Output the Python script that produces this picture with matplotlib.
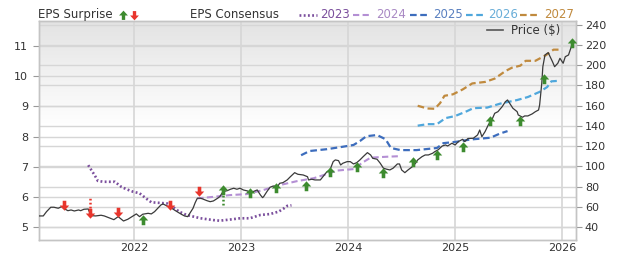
import numpy as np
import matplotlib
matplotlib.use("Agg")
import matplotlib.pyplot as plt
from matplotlib.path import Path
from matplotlib.lines import Line2D
from matplotlib.colors import LinearSegmentedColormap

plt.rcParams['font.family'] = ['DejaVu Sans']

# ---- data (decimal year, value) ----
price_t = [2021.11, 2021.15, 2021.18, 2021.22, 2021.25, 2021.29, 2021.32, 2021.35, 2021.38, 2021.41,
           2021.44, 2021.48, 2021.50, 2021.53, 2021.57, 2021.58, 2021.60, 2021.64, 2021.69, 2021.72,
           2021.77, 2021.81, 2021.85, 2021.88, 2021.90, 2021.94, 2021.99, 2022.02, 2022.05, 2022.08,
           2022.13, 2022.16, 2022.19, 2022.22, 2022.25, 2022.27, 2022.32, 2022.35, 2022.39, 2022.44,
           2022.47, 2022.50, 2022.52, 2022.55, 2022.57, 2022.59, 2022.62, 2022.64, 2022.68, 2022.71,
           2022.74, 2022.78, 2022.80, 2022.83, 2022.87, 2022.90, 2022.93, 2022.96, 2022.99, 2023.02,
           2023.06, 2023.08, 2023.11, 2023.15, 2023.18, 2023.20, 2023.21, 2023.24, 2023.27, 2023.30,
           2023.34, 2023.36, 2023.39, 2023.43, 2023.46, 2023.50, 2023.53, 2023.58, 2023.62, 2023.63,
           2023.66, 2023.69, 2023.74, 2023.77, 2023.80, 2023.83, 2023.86, 2023.88, 2023.91, 2023.93,
           2023.95, 2023.99, 2024.02, 2024.05, 2024.08, 2024.11, 2024.14, 2024.18, 2024.21, 2024.23,
           2024.27, 2024.30, 2024.33, 2024.36, 2024.39, 2024.42, 2024.46, 2024.48, 2024.50, 2024.53,
           2024.56, 2024.60, 2024.63, 2024.65, 2024.69, 2024.72, 2024.75, 2024.79, 2024.81, 2024.84,
           2024.88, 2024.91, 2024.93, 2024.97, 2025.00, 2025.03, 2025.07, 2025.09, 2025.12, 2025.17,
           2025.21, 2025.23, 2025.25, 2025.28, 2025.31, 2025.35, 2025.37, 2025.40, 2025.44, 2025.47,
           2025.49, 2025.51, 2025.54, 2025.58, 2025.59, 2025.63, 2025.65, 2025.68, 2025.72, 2025.75,
           2025.78, 2025.79, 2025.81, 2025.82, 2025.84, 2025.87, 2025.91, 2025.93, 2025.96, 2025.98,
           2026.01, 2026.03, 2026.06, 2026.09]
price_v = [50.9, 50.9, 55.1, 59.5, 59.5, 58.5, 60.1, 57.8, 56.1, 56.8,
           55.8, 56.8, 56.1, 57.5, 57.8, 55.1, 51.2, 50.9, 51.6, 50.9,
           48.9, 47.2, 50.2, 47.6, 45.9, 47.6, 50.9, 52.9, 50.2, 52.6,
           53.5, 52.9, 55.1, 58.5, 61.8, 62.7, 60.1, 58.5, 55.8, 52.6,
           50.9, 50.2, 53.5, 58.5, 64.0, 68.4, 68.4, 67.7, 66.0, 65.0,
           65.7, 68.4, 70.0, 74.9, 75.9, 77.3, 78.3, 77.3, 78.3, 76.6,
           75.6, 73.9, 74.9, 76.6, 71.6, 69.0, 70.0, 74.9, 79.3, 80.5,
           79.9, 83.2, 83.8, 86.5, 89.7, 93.7, 92.1, 91.4, 89.7, 86.5,
           87.2, 86.5, 86.5, 90.4, 94.4, 96.4, 104.6, 106.3, 105.6, 101.3,
           103.0, 104.6, 104.6, 102.3, 103.6, 106.3, 109.5, 113.5, 111.2, 107.9,
           107.0, 103.0, 98.1, 97.1, 96.4, 98.1, 102.3, 102.3, 96.4, 93.7,
           96.4, 99.6, 103.0, 106.3, 109.5, 111.2, 111.2, 112.9, 114.5, 116.2,
           120.1, 121.1, 120.1, 122.8, 121.1, 124.4, 126.7, 124.4, 127.5, 127.7,
           131.0, 135.9, 129.3, 134.3, 140.9, 147.5, 152.4, 154.0, 159.0, 163.9,
           165.6, 162.3, 157.4, 154.0, 150.8, 148.5, 149.8, 149.8, 151.8, 154.0,
           155.7, 160.7, 182.1, 198.5, 210.1, 212.4, 203.5, 198.5, 201.9, 206.8,
           201.9, 208.4, 210.1, 219.5]

c2023_t = [2021.57, 2021.63, 2021.66, 2021.71, 2021.82, 2021.88, 2021.93, 2021.99, 2022.05, 2022.11,
           2022.16, 2022.24, 2022.31, 2022.36, 2022.42, 2022.49, 2022.62, 2022.74, 2022.80, 2022.90,
           2022.99, 2023.08, 2023.18, 2023.27, 2023.35, 2023.40, 2023.43, 2023.47]
c2023_v = [7.05, 6.72, 6.53, 6.50, 6.50, 6.33, 6.25, 6.17, 6.12, 5.95,
           5.82, 5.80, 5.78, 5.67, 5.51, 5.40, 5.29, 5.23, 5.21, 5.25,
           5.29, 5.29, 5.40, 5.43, 5.51, 5.62, 5.70, 5.72]

c2024_t = [2022.59, 2022.74, 2022.90, 2023.05, 2023.21, 2023.36, 2023.52, 2023.68, 2023.83, 2023.89,
           2024.05, 2024.14, 2024.21, 2024.36, 2024.49]
c2024_v = [5.95, 6.00, 6.06, 6.09, 6.23, 6.39, 6.52, 6.62, 6.79, 6.87,
           6.92, 7.15, 7.30, 7.33, 7.35]

c2025_t = [2023.56, 2023.64, 2023.80, 2023.93, 2024.05, 2024.11, 2024.17, 2024.27, 2024.35, 2024.40,
           2024.49, 2024.64, 2024.83, 2024.89, 2025.02, 2025.14, 2025.33, 2025.42, 2025.49]
c2025_v = [7.38, 7.52, 7.58, 7.65, 7.72, 7.85, 8.01, 8.05, 7.91, 7.62,
           7.55, 7.55, 7.62, 7.78, 7.83, 7.90, 7.96, 8.10, 8.18]

c2026_t = [2024.65, 2024.74, 2024.83, 2024.91, 2025.00, 2025.11, 2025.17, 2025.30, 2025.42, 2025.58,
           2025.68, 2025.79, 2025.86, 2025.90, 2025.98]
c2026_v = [8.36, 8.41, 8.41, 8.61, 8.68, 8.84, 8.94, 8.96, 9.09, 9.21,
           9.31, 9.48, 9.64, 9.83, 9.85]

c2027_t = [2024.65, 2024.74, 2024.81, 2024.86, 2024.90, 2024.98, 2025.07, 2025.16, 2025.28, 2025.37,
           2025.47, 2025.53, 2025.61, 2025.66, 2025.75, 2025.85, 2025.92, 2025.98]
c2027_v = [9.02, 8.93, 8.92, 9.11, 9.35, 9.40, 9.56, 9.76, 9.81, 9.92,
           10.17, 10.28, 10.35, 10.51, 10.51, 10.70, 10.88, 10.88]

# surprise arrows, placed at price level
beat_t = [2022.08, 2022.83, 2023.08, 2023.33, 2023.61, 2023.83, 2024.08, 2024.33, 2024.61, 2024.83,
          2025.07, 2025.33, 2025.61, 2025.83, 2026.09]
beat_v = [46.9, 76.6, 73.6, 78.6, 80.5, 94.4, 99.3, 93.7, 104.6, 111.2,
          119.4, 145.1, 145.1, 186.1, 222.3]
miss_t = [2021.34, 2021.59, 2021.85, 2022.33, 2022.61]
miss_v = [61.8, 53.8, 54.8, 61.8, 75.6]

# dotted jump lines at two of the surprises
jump_t = [2021.59, 2022.83]
jump_lo = [54.8, 61.8]
jump_hi = [68.7, 73.6]
jump_col = ['#e8352c', '#3d8b2f']

series = [('2023', c2023_t, c2023_v, '#7b4f9d', (0, (0.7, 0.9)), 1.9),
          ('2024', c2024_t, c2024_v, '#b48fd4', (0, (3, 1.6)), 1.5),
          ('2025', c2025_t, c2025_v, '#3d6dbd', (0, (3, 1.6)), 1.6),
          ('2026', c2026_t, c2026_v, '#4fa7dc', (0, (3, 1.6)), 1.6),
          ('2027', c2027_t, c2027_v, '#c08a3e', (0, (3, 1.6)), 1.6)]
legend_txt_col = ['#7b4f9d', '#a989c4', '#5a80c0', '#6aaed8', '#c08a3e']

eps_lim = (4.57, 11.83)
price_lim = (27.1, 243.7)
x_lim = (2021.11, 2026.13)
years = [2022, 2023, 2024, 2025, 2026]
eps_ticks = [5, 6, 7, 8, 9, 10, 11]
price_ticks = list(range(40, 241, 20))

# arrow markers
up_path = Path([(-1, 0), (0, 1.1), (1, 0), (0.38, 0), (0.38, -1), (-0.38, -1), (-0.38, 0), (-1, 0)],
               [Path.MOVETO] + [Path.LINETO] * 6 + [Path.CLOSEPOLY])
down_path = Path([(x, -y) for x, y in up_path.vertices], up_path.codes)

W, H = 620, 260
fig = plt.figure(figsize=(6.2, 2.6), dpi=100)
ax = fig.add_axes([39 / W, 20 / H, 537 / W, 219 / H])
ax2 = ax.twinx()

grid_col = '#d6d6d6'
spine_col = '#c4c4c4'

# background gradient
cmap = LinearSegmentedColormap.from_list('bg', ['#ffffff', '#e3e3e3'])
ax.imshow(np.linspace(0, 1, 100).reshape(-1, 1), extent=(0, 1, 0.515, 1), transform=ax.transAxes,
          aspect='auto', cmap=cmap, origin='lower', zorder=0)

# grid: EPS ticks, price ticks and years, all on the bottom axis
for e in eps_ticks:
    ax.axhline(e, color=grid_col, lw=1, zorder=1)
for p in price_ticks:
    e = eps_lim[0] + (p - price_lim[0]) / (price_lim[1] - price_lim[0]) * (eps_lim[1] - eps_lim[0])
    ax.axhline(e, color=grid_col, lw=1, zorder=1)
for y in years:
    ax.axvline(y, color=grid_col, lw=1.2, zorder=1)

for name, t, v, col, ls, lw in series:
    ax.plot(t, v, color=col, linestyle=ls, lw=lw, zorder=3)

ax2.plot(price_t, price_v, color='#3a3a3a', lw=0.9, zorder=3)
for t, lo, hi, col in zip(jump_t, jump_lo, jump_hi, jump_col):
    ax2.plot([t, t], [lo, hi], color=col, linestyle=(0, (0.7, 0.9)), lw=1.8, zorder=3)
ax2.plot(beat_t, beat_v, linestyle='none', marker=up_path, markersize=7.5,
         color='#3d8b2f', markeredgewidth=0, zorder=4)
ax2.plot(miss_t, miss_v, linestyle='none', marker=down_path, markersize=7.5,
         color='#e8352c', markeredgewidth=0, zorder=4)

ax.set_xlim(*x_lim)
ax.set_ylim(*eps_lim)
ax2.set_ylim(*price_lim)

ax.set_xticks(years)
ax.set_xticklabels([str(y) for y in years])
ax.set_yticks(eps_ticks)
ax2.set_yticks(price_ticks)

ax.tick_params(axis='x', length=0, pad=2, labelsize=8, labelcolor='#333333')
ax.tick_params(axis='y', length=4.3, width=0.8, color='#999999', pad=3.5, labelsize=8, labelcolor='#333333')
ax2.tick_params(axis='y', length=4.3, width=0.8, color='#999999', pad=2, labelsize=8, labelcolor='#333333')

for a in (ax, ax2):
    for s in a.spines.values():
        s.set_color(spine_col)
        s.set_linewidth(1)

# top legend row
def fx(px):
    return px / W

def fy(py):
    return 1 - py / H

txt_kw = dict(fontsize=8.5, va='center', ha='left')
fig.text(fx(38), fy(14.5), 'EPS Surprise', color='#333333', **txt_kw)
fig.add_artist(Line2D([fx(123)], [fy(14.5)], marker=up_path, markersize=7, color='#3d8b2f',
                      markeredgewidth=0, transform=fig.transFigure))
fig.add_artist(Line2D([fx(134)], [fy(14.5)], marker=down_path, markersize=7, color='#e8352c',
                      markeredgewidth=0, transform=fig.transFigure))
fig.text(fx(190), fy(14.5), 'EPS Consensus', color='#333333', **txt_kw)

line_x = [299, 353, 410, 466, 520]
text_x = [320, 376, 433, 488, 544]
for (name, t, v, col, ls, lw), tcol, lx, tx in zip(series, legend_txt_col, line_x, text_x):
    fig.add_artist(Line2D([fx(lx), fx(lx + 18)], [fy(15), fy(15)], color=col, linestyle=ls,
                          lw=lw, transform=fig.transFigure))
    fig.text(fx(tx), fy(14.5), name, color=tcol, **txt_kw)

fig.add_artist(Line2D([fx(487), fx(503)], [fy(30), fy(30)], color='#555555', lw=1.2,
                      transform=fig.transFigure))
fig.text(fx(511), fy(30), 'Price ($)', color='#333333', **txt_kw)

fig.savefig('out.png', dpi=100)
